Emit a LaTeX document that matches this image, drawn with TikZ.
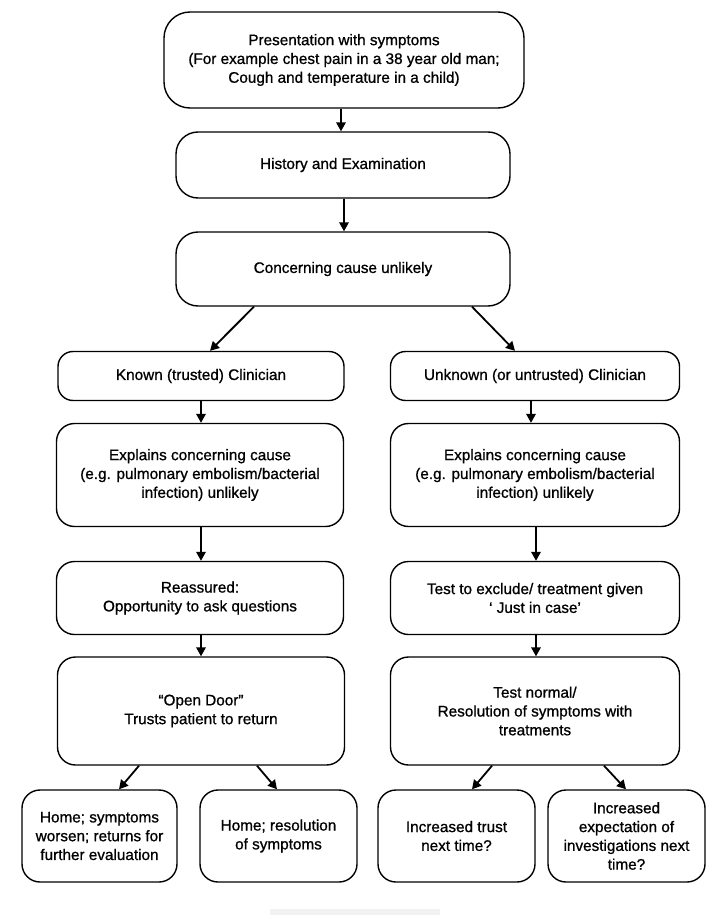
\documentclass[tikz,border=0pt]{standalone}
\usepackage{fontspec}
\setmainfont{Liberation Sans}[FakeBold=0.9]
\usetikzlibrary{arrows.meta}
\tikzset{
  bx/.style={draw, line width=1.4pt, rounded corners=#1, align=center, inner sep=2pt,
    font=\fontsize{15.3}{18.8}\selectfont},
  bx/.default=16pt,
  arr/.style={line width=1.8pt, -{Triangle[length=9pt,width=9.5pt]}},
}
\begin{document}
\begin{tikzpicture}[x=1pt,y=-1pt]
\useasboundingbox (0,0) rectangle (722,915);
% top chain
\node[bx=26pt, minimum width=360pt, minimum height=96pt] (p) at (344,60)
  {Presentation with symptoms\\(For example chest pain in a 38 year old man;\\Cough and temperature in a child)};
\node[bx=22pt, minimum width=334pt, minimum height=66pt] (h) at (343,165) {History and Examination};
\node[bx=22pt, minimum width=334pt, minimum height=74pt] (c) at (343,269) {Concerning cause unlikely};
% left column
\node[bx=15pt, minimum width=286pt, minimum height=49pt] (k) at (201,376) {Known (trusted) Clinician};
\node[bx=18pt, minimum width=287pt, minimum height=103pt] (el) at (200,475)
  {Explains concerning cause\\(e.g. pulmonary embolism/bacterial\\infection) unlikely};
\node[bx=18pt, minimum width=287pt, minimum height=73pt] (r) at (200,598)
  {Reassured:\\Opportunity to ask questions};
\node[bx=18pt, minimum width=287pt, minimum height=108pt] (o) at (201,711)
  {``Open Door''\\Trusts patient to return};
% right column
\node[bx=15pt, minimum width=289pt, minimum height=49pt] (u) at (535,376) {Unknown (or untrusted) Clinician};
\node[bx=18pt, minimum width=289pt, minimum height=103pt] (er) at (535,475)
  {Explains concerning cause\\(e.g. pulmonary embolism/bacterial\\infection) unlikely};
\node[bx=18pt, minimum width=289pt, minimum height=73pt] (t) at (535,598)
  {Test to exclude/ treatment given\\` Just in case'};
\node[bx=18pt, minimum width=289pt, minimum height=108pt] (n) at (535,711)
  {Test normal/\\Resolution of symptoms with\\treatments};
% bottom row
\node[bx=18pt, minimum width=155pt, minimum height=92pt] (b1) at (99.5,836)
  {Home; symptoms\\worsen; returns for\\further evaluation};
\node[bx=18pt, minimum width=157pt, minimum height=92pt] (b2) at (278.5,836)
  {Home; resolution\\of symptoms};
\node[bx=18pt, minimum width=157pt, minimum height=92pt] (b3) at (456.5,836)
  {Increased trust\\next time?};
\node[bx=18pt, minimum width=157pt, minimum height=92pt] (b4) at (626.5,836)
  {Increased\\expectation of\\investigations next\\time?};
% connectors
\draw[arr] (p.south -| 341,0) -- (h.north -| 341,0);
\draw[arr] (h.south -| 344,0) -- (c.north -| 344,0);
\draw[arr] (c.south -| 254,0) -- (k.north -| 210,0);
\draw[arr] (c.south -| 472,0) -- (u.north -| 515,0);
\draw[arr] (k.south -| 201,0) -- (el.north -| 201,0);
\draw[arr] (el.south -| 201,0) -- (r.north -| 201,0);
\draw[arr] (r.south -| 201,0) -- (o.north -| 201,0);
\draw[arr] (u.south -| 531,0) -- (er.north -| 531,0);
\draw[arr] (er.south -| 536,0) -- (t.north -| 536,0);
\draw[arr] (t.south -| 536,0) -- (n.north -| 536,0);
\draw[arr] (o.south -| 139,0) -- (b1.north -| 119,0);
\draw[arr] (o.south -| 257,0) -- (b2.north -| 277,0);
\draw[arr] (n.south -| 492,0) -- (b3.north -| 472,0);
\draw[arr] (n.south -| 604,0) -- (b4.north -| 626,0);
% faint bar at the bottom
\fill[gray!10] (270,909) rectangle (440,915);
\end{tikzpicture}
\end{document}
